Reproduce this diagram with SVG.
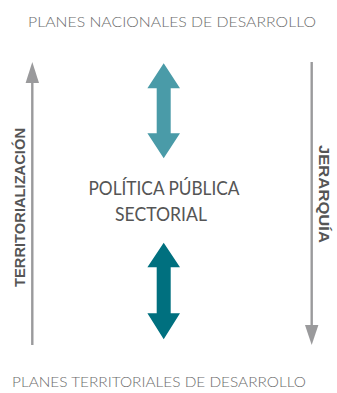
<svg xmlns="http://www.w3.org/2000/svg" width="337" height="393" viewBox="0 0 337 393">
  <style>
    .title { font-family: Lato, "Liberation Sans", sans-serif; font-weight: 300; font-size: 14.5px; fill: #6b6b6b; }
    .center { font-family: Lato, "Liberation Sans", sans-serif; font-size: 19.5px; fill: #555555; }
    .side { font-family: "Liberation Sans", Arial, sans-serif; font-weight: bold; font-size: 14.5px; fill: #555555; }
    .axis { stroke: #9a9a9c; stroke-width: 2.4; fill: none; }
    .axis-head { fill: #9a9a9c; }
  </style>

  <g id="planes-nacionales">
    <text class="title" x="172" y="26.5" text-anchor="middle" textLength="288" lengthAdjust="spacingAndGlyphs">PLANES NACIONALES DE DESARROLLO</text>
  </g>

  <g id="planes-territoriales">
    <text class="title" x="159" y="386.5" text-anchor="middle" textLength="294" lengthAdjust="spacingAndGlyphs">PLANES TERRITORIALES DE DESARROLLO</text>
  </g>

  <g id="politica-publica">
    <text class="center" x="164" y="194.5" text-anchor="middle" textLength="151" lengthAdjust="spacingAndGlyphs">POLÍTICA PÚBLICA</text>
    <text class="center" x="161" y="221" text-anchor="middle" textLength="92" lengthAdjust="spacingAndGlyphs">SECTORIAL</text>
  </g>

  <g id="territorializacion">
    <text class="side" transform="translate(24.5,207.5) rotate(-90)" text-anchor="middle" textLength="159" lengthAdjust="spacingAndGlyphs">TERRITORIALIZACIÓN</text>
  </g>

  <g id="jerarquia">
    <text class="side" transform="translate(319,194) rotate(90)" text-anchor="middle" textLength="98" lengthAdjust="spacingAndGlyphs">JERARQUÍA</text>
  </g>

  <g id="connectors">
    <!-- upward axis on the left -->
    <line class="axis" x1="32.3" y1="345" x2="32.3" y2="80"/>
    <polygon class="axis-head" points="32.3,62 39,83 25.6,83"/>
    <!-- downward axis on the right -->
    <line class="axis" x1="311.7" y1="62" x2="311.7" y2="328"/>
    <polygon class="axis-head" points="311.7,345 318.4,325 305,325"/>
    <!-- upper double arrow -->
    <polygon fill="#4a9ba8" points="163.7,63.3 180,88.3 170.7,88.3 170.7,133.3 180,133.3 163.7,158.3 147.4,133.3 156.7,133.3 156.7,88.3 147.4,88.3"/>
    <!-- lower double arrow -->
    <polygon fill="#00707f" points="163.7,242.7 180,267.3 170.7,267.3 170.7,313.3 180,313.3 163.7,339.3 147.4,313.3 156.7,313.3 156.7,267.3 147.4,267.3"/>
  </g>
</svg>
